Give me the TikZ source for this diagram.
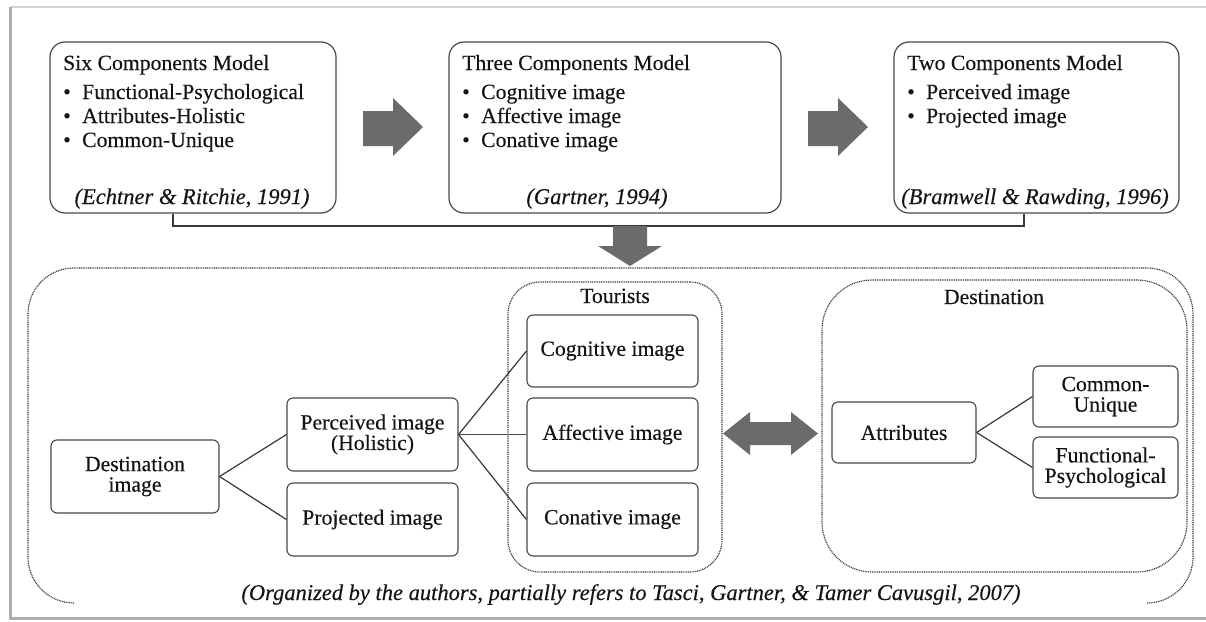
\documentclass[tikz,border=0pt]{standalone}
\usepackage{fontspec}
\setmainfont[FakeBold=0.25]{Liberation Serif}
\usetikzlibrary{calc}
\begin{document}
\begin{tikzpicture}[x=1pt,y=-1pt,
  txt/.style={font=\fontsize{21.7}{24}\selectfont, text=black!92, inner sep=0pt},
  cite/.style={font=\fontsize{22.5}{24}\selectfont\itshape, text=black!92, inner sep=0pt},
  bigbox/.style={draw=black!72, line width=1.2pt, rounded corners=15pt, fill=white, inner sep=0pt},
  smallbox/.style={draw=black!72, line width=1.1pt, rounded corners=6pt, align=center,
    font=\fontsize{21.7}{20.5}\selectfont, text=black!92, inner sep=0pt},
  dotbox/.style={draw=black!78, line width=1.15pt, dash pattern=on 1pt off 0.8pt},
  link/.style={draw=black!78, line width=1.2pt},
  thinlink/.style={draw=black!70, line width=0.6pt},
  blockarrow/.style={fill=black!58}
]
\useasboundingbox (0,0) rectangle (1206,621);
\fill[white] (0,0) rectangle (1206,621);
% frame of the picture
\draw[black!18, line width=1.2pt] (10,7) -- (1206,7);
\draw[black!32, line width=3pt] (10,7) -- (10,618) -- (1206,618);

% ---------- top row ----------
\node[bigbox, minimum width=286pt, minimum height=171pt] (six) at (193,127.5) {};
\node[bigbox, minimum width=332pt, minimum height=171pt] (three) at (615,127.5) {};
\node[bigbox, minimum width=285pt, minimum height=171pt] (two) at (1036.5,127.5) {};

\node[txt, anchor=base west] (sixT) at (63,70) {Six Components Model};
\node[txt, anchor=base west] (sixA) at (63,99) {\makebox[19pt][l]{•}Functional-Psychological};
\node[txt, anchor=base west] (sixB) at (63,123) {\makebox[19pt][l]{•}Attributes-Holistic};
\node[txt, anchor=base west] (sixC) at (63,147) {\makebox[19pt][l]{•}Common-Unique};
\node[cite, anchor=base] (sixR) at (192,204) {(Echtner \& Ritchie, 1991)};

\node[txt, anchor=base west] (thrT) at (462,70) {Three Components Model};
\node[txt, anchor=base west] (thrA) at (462,99) {\makebox[19pt][l]{•}Cognitive image};
\node[txt, anchor=base west] (thrB) at (462,123) {\makebox[19pt][l]{•}Affective image};
\node[txt, anchor=base west] (thrC) at (462,147) {\makebox[19pt][l]{•}Conative image};
\node[cite, anchor=base] (thrR) at (597,204) {(Gartner, 1994)};

\node[txt, anchor=base west] (twoT) at (907,70) {Two Components Model};
\node[txt, anchor=base west] (twoA) at (907,99) {\makebox[19pt][l]{•}Perceived image};
\node[txt, anchor=base west] (twoB) at (907,123) {\makebox[19pt][l]{•}Projected image};
\node[cite, anchor=base] (twoR) at (1035,204) {(Bramwell \& Rawding, 1996)};

% block arrows between top boxes
\fill[blockarrow] (363,111) -- (393,111) -- (393,98) -- (423,127) -- (393,156) -- (393,146) -- (363,146) -- cycle;
\fill[blockarrow] (808,111) -- (838,111) -- (838,98) -- (868,127) -- (838,156) -- (838,146) -- (808,146) -- cycle;

% bracket
\coordinate (brL) at (173,226);
\coordinate (brR) at (1024,226);
\draw[link] (brL |- six.south) -- (brL) -- (brR) -- (brR |- two.south);

% down arrow
\fill[blockarrow] (613,226) -- (647,226) -- (647,246) -- (662,246) -- (630,266) -- (598,246) -- (613,246) -- cycle;

% ---------- bottom region ----------
\draw[dotbox, rounded corners=46pt] (1147,603) -- (1193,603) -- (1193,268) -- (28,268) -- (28,603) -- (74,603);

\node[dotbox, rounded corners=32pt, minimum width=214pt, minimum height=290pt] (tour) at (615,427) {};
\node[txt, anchor=base] (tourT) at (615,303) {Tourists};
\node[dotbox, rounded corners=50pt, minimum width=365pt, minimum height=292pt] (dest) at (1004.5,426) {};
\node[txt, anchor=base] (destT) at (994,304) {Destination};

\node[smallbox, minimum width=168pt, minimum height=73pt] (dimg) at (135,476.5) {Destination\\image};
\node[smallbox, minimum width=171pt, minimum height=73pt] (perc) at (372.5,434.5) {Perceived image\\(Holistic)};
\node[smallbox, minimum width=171pt, minimum height=73pt] (proj) at (372.5,519.5) {Projected image};

\node[smallbox, minimum width=171pt, minimum height=72pt] (cog) at (612.5,351) {Cognitive image};
\node[smallbox, minimum width=171pt, minimum height=73pt] (aff) at (612.5,434.5) {Affective image};
\node[smallbox, minimum width=171pt, minimum height=73pt] (con) at (612.5,519.5) {Conative image};

\node[smallbox, minimum width=144pt, minimum height=61pt] (attr) at (904,432.5) {Attributes};
\node[smallbox, minimum width=145pt, minimum height=61pt] (cu) at (1105.5,396.5) {Common-\\Unique};
\node[smallbox, minimum width=145pt, minimum height=61pt] (fp) at (1105.5,467.5) {Functional-\\Psychological};

\draw[link] (dimg.east) -- (perc.west);
\draw[link] (dimg.east) -- (proj.west);
\draw[link] (perc.east) -- (cog.west);
\draw[thinlink] (perc.east) -- (aff.west);
\draw[link] (perc.east) -- (con.west);
\draw[link] (attr.east) -- (cu.west);
\draw[link] (attr.east) -- (fp.west);

% double arrow
\fill[blockarrow] (723,433.5) -- (750,412) -- (750,422) -- (791,422) -- (791,412) -- (818,433.5)
  -- (791,455) -- (791,445) -- (750,445) -- (750,455) -- cycle;

\node[cite, anchor=base] (capt) at (631,600) {(Organized by the authors, partially refers to Tasci, Gartner, \& Tamer Cavusgil, 2007)};
\end{tikzpicture}
\end{document}
